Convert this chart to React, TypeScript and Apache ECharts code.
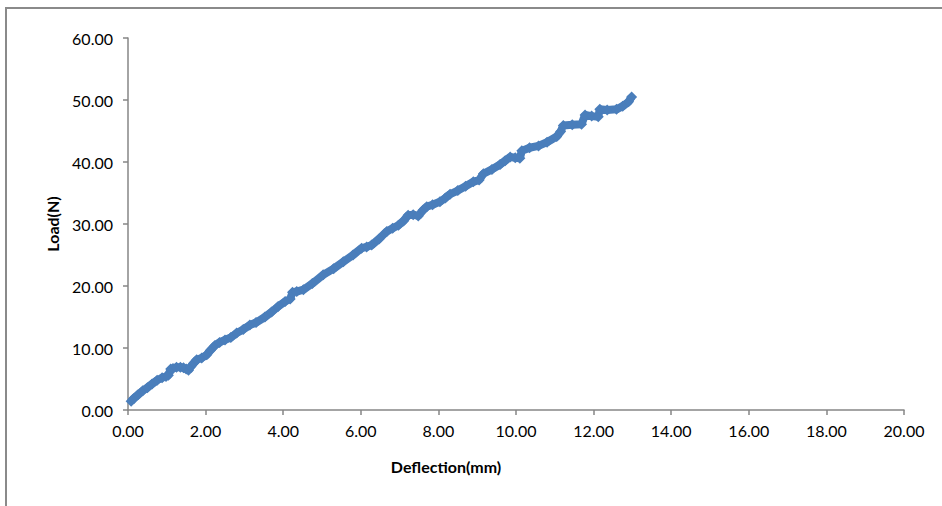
import React, { useEffect, useRef } from "react";
import * as echarts from "echarts";

const deflection = [
  0.08, 0.14, 0.25, 0.38, 0.5, 0.62, 0.75, 0.88, 0.98, 1.04, 1.1, 1.16, 1.25, 1.35, 1.43, 1.5, 1.56, 1.62,
  1.7, 1.77, 1.9, 2.03, 2.12, 2.24, 2.36, 2.5, 2.65, 2.8, 2.97, 3.14, 3.3, 3.53, 3.7, 3.87, 4.05, 4.18,
  4.24, 4.35, 4.52, 4.75, 5.03, 5.3, 5.55, 5.8, 6.02, 6.15, 6.28, 6.47, 6.67, 6.82, 6.97, 7.1, 7.22,
  7.35, 7.48, 7.6, 7.7, 7.85, 8.04, 8.18, 8.3, 8.5, 8.7, 8.9, 9.05, 9.16, 9.38, 9.59, 9.72, 9.85, 9.98,
  10.1, 10.15, 10.35, 10.58, 10.8, 11.05, 11.15, 11.22, 11.45, 11.69, 11.78, 11.95, 12.12, 12.16,
  12.35, 12.59, 12.75, 12.9, 12.98,
];
const load = [
  1.4, 1.8, 2.4, 3.1, 3.6, 4.2, 4.8, 5.2, 5.4, 5.6, 6.6, 6.7, 6.9, 6.9, 6.8, 6.6, 6.4, 7.0,
  7.6, 8.1, 8.4, 8.9, 9.6, 10.4, 10.9, 11.3, 11.7, 12.4, 13.0, 13.7, 14.1, 15.0, 15.8, 16.7, 17.5, 17.9,
  19.0, 19.1, 19.4, 20.4, 21.8, 22.8, 23.9, 25.0, 26.1, 26.3, 26.6, 27.6, 28.8, 29.3, 29.8, 30.5, 31.4,
  31.5, 31.3, 32.2, 32.8, 33.1, 33.6, 34.2, 34.8, 35.4, 36.1, 36.8, 37.1, 38.1, 38.8, 39.6, 40.2, 40.8, 40.7,
  40.6, 41.8, 42.3, 42.6, 43.2, 44.1, 44.9, 45.9, 46.0, 46.1, 47.6, 47.4, 47.3, 48.5,
  48.4, 48.5, 49.0, 49.7, 50.5,
];
const xTicks = [0, 2, 4, 6, 8, 10, 12, 14, 16, 18, 20];
const yTicks = [0, 10, 20, 30, 40, 50, 60];

const FONT = "Lato, 'Open Sans', sans-serif";

export default function App() {
  const ref = useRef<HTMLDivElement>(null);
  useEffect(() => {
    const chart = echarts.init(ref.current!, null, { renderer: "svg" });
    const axisColor = "#868686";
    chart.setOption({
      animation: false,
      backgroundColor: "#ffffff",
      grid: { left: 128, top: 38, right: 38, bottom: 96 },
      xAxis: {
        type: "value",
        min: xTicks[0],
        max: xTicks[xTicks.length - 1],
        interval: 2,
        axisLine: { show: true, lineStyle: { color: axisColor, width: 1.5 } },
        axisTick: { show: true, inside: false, length: 5, lineStyle: { color: axisColor, width: 1.5 } },
        splitLine: { show: false },
        axisLabel: {
          color: "#000",
          fontFamily: FONT,
          fontSize: 16,
          margin: 12,
          formatter: (v: number) => v.toFixed(2),
        },
      },
      yAxis: {
        type: "value",
        min: yTicks[0],
        max: yTicks[yTicks.length - 1],
        interval: 10,
        axisLine: { show: true, lineStyle: { color: axisColor, width: 1.5 } },
        axisTick: { show: true, inside: false, length: 5, lineStyle: { color: axisColor, width: 1.5 } },
        splitLine: { show: false },
        axisLabel: {
          color: "#000",
          fontFamily: FONT,
          fontSize: 16,
          margin: 15,
          formatter: (v: number) => v.toFixed(2),
        },
      },
      graphic: [
        {
          type: "rect",
          shape: { x: 6, y: 8, width: 1000, height: 600 },
          style: { fill: "none", stroke: "#8a8a8a", lineWidth: 2 },
          silent: true,
          z: -10,
        },
        {
          type: "text",
          x: 446,
          y: 466,
          style: {
            text: "Deflection(mm)",
            fontFamily: FONT,
            fontWeight: "bold",
            fontSize: 16,
            fill: "#000",
            align: "center",
            verticalAlign: "middle",
          },
        },
        {
          type: "text",
          x: 52,
          y: 224,
          rotation: Math.PI / 2,
          style: {
            text: "Load(N)",
            fontFamily: FONT,
            fontWeight: "bold",
            fontSize: 16,
            fill: "#000",
            align: "center",
            verticalAlign: "middle",
          },
        },
      ],
      series: [
        {
          type: "line",
          data: deflection.map((d, i) => [d, load[i]]),
          symbol: "diamond",
          symbolSize: 11,
          showAllSymbol: true,
          itemStyle: { color: "#4A7EBB" },
          lineStyle: { color: "#4A7EBB", width: 8 },
        },
      ],
    });
    return () => chart.dispose();
  }, []);
  return (
    <div
      ref={ref}
      style={{ position: "absolute", left: 0, top: 0, width: 942, height: 506 }}
    />
  );
}
